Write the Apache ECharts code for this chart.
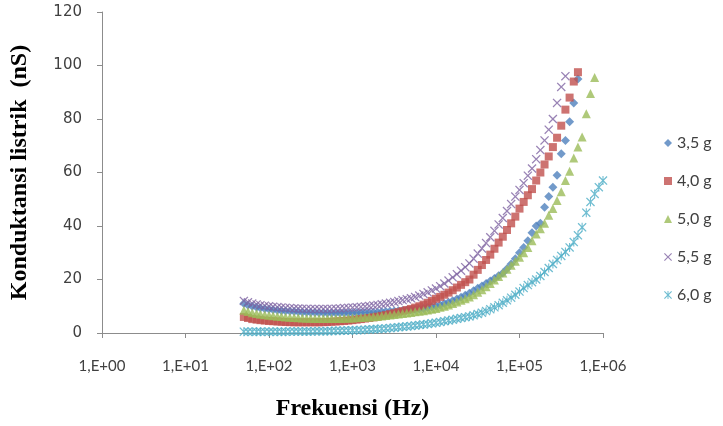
<!DOCTYPE html>
<html>
<head>
<meta charset="utf-8">
<script src="https://cdn.jsdelivr.net/npm/echarts@6/dist/echarts.min.js"></script>
<style>
  html, body { margin: 0; padding: 0; background: #fff; }
  #chart { width: 723px; height: 426px; }
</style>
</head>
<body>
<div id="chart"></div>
<script>
// frequency sweep (Hz)
const freq = [50, 56, 63, 71, 79, 89, 100, 112, 126, 141, 158, 178, 200, 224, 251, 282, 316, 355, 398, 447,
    501, 562, 631, 708, 794, 891, 1000, 1122, 1259, 1413, 1585, 1778, 1995, 2239, 2512, 2818, 3162, 3548, 3981, 4467, 5012,
    5623, 6310, 7079, 7943, 8913, 10000, 11220, 12589, 14125, 15849, 17783, 19953, 22387, 25119,
    28184, 31623, 35481, 39811, 44668, 50119, 56234, 63096, 70795, 79433, 89125, 100000,
    112202, 125893, 141254, 158489, 177828, 199526, 223872, 251189, 281838, 316228, 354813, 398107,
    446684, 501187, 562341, 630957, 707946, 794328, 891251, 1000000];

const names = ["3,5 g", "4,0 g", "5,0 g", "5,5 g", "6,0 g"];

// konduktansi (nS)
const g35 = [11.0, 10.4, 10.0, 9.6, 9.3, 9.1, 8.9, 8.7, 8.5, 8.35, 8.2, 8.1, 8.0, 7.9, 7.8, 7.75, 7.7, 7.65, 7.6, 7.55,
    7.5, 7.5, 7.5, 7.5, 7.5, 7.5, 7.5, 7.55, 7.6, 7.65, 7.7, 7.75, 7.8, 7.9, 8.0, 8.1, 8.2, 8.3, 8.4, 8.5, 8.6,
    8.8, 9.0, 9.2, 9.5, 9.8, 10.1, 10.5, 11.0, 11.5, 12.1, 12.7, 13.4, 14.1, 14.9,
    15.8, 16.7, 17.6, 18.5, 19.4, 20.4, 21.4, 22.4, 24.0, 25.8, 27.8, 30.0,
    32.0, 34.5, 37.5, 40.0, 41.0, 47.0, 51.0, 54.5, 59.0, 67.0, 72.0, 79.0, 86.0, 95.0];
const g40 = [6.0, 5.6, 5.2, 5.0, 4.8, 4.65, 4.5, 4.4, 4.3, 4.2, 4.1, 4.05, 4.0, 4.0, 4.0, 4.0, 4.0, 4.0, 4.0, 4.05,
    4.1, 4.2, 4.3, 4.4, 4.5, 4.65, 4.8, 5.0, 5.2, 5.4, 5.6, 5.85, 6.1, 6.4, 6.7, 7.05, 7.4, 7.8, 8.2, 8.6, 9.0,
    9.5, 10.0, 10.6, 11.3, 12.0, 12.8, 13.5, 14.3, 15.1, 16.0, 17.0, 18.0, 19.0, 20.0,
    21.8, 23.6, 25.4, 27.3, 29.3, 31.5, 33.8, 36.0, 38.5, 41.0, 43.5, 46.5,
    49.0, 51.5, 53.8, 57.0, 60.0, 63.0, 66.0, 69.5, 73.0, 77.5, 83.5, 88.0, 94.0, 97.5];
const g50 = [8.5, 8.0, 7.6, 7.3, 7.0, 6.8, 6.6, 6.45, 6.3, 6.15, 6.0, 5.9, 5.8, 5.7, 5.6, 5.55, 5.5, 5.45, 5.4, 5.4,
    5.4, 5.4, 5.4, 5.45, 5.5, 5.55, 5.6, 5.7, 5.8, 5.9, 6.0, 6.1, 6.2, 6.35, 6.5, 6.7, 6.9, 7.1, 7.3, 7.5, 7.7,
    7.9, 8.1, 8.3, 8.6, 8.9, 9.2, 9.6, 10.0, 10.5, 11.0, 11.6, 12.2, 12.8, 13.5,
    14.3, 15.2, 16.2, 17.3, 18.5, 19.8, 21.1, 22.4, 23.8, 25.3, 26.8, 28.3,
    30.0, 32.0, 34.5, 37.0, 39.0, 41.0, 44.0, 46.5, 49.5, 52.8, 57.0, 60.5, 65.4, 69.5, 73.3, 82.0, 89.5, 95.5];
const g55 = [12.0, 11.5, 11.0, 10.7, 10.4, 10.2, 10.0, 9.85, 9.7, 9.55, 9.4, 9.3, 9.2, 9.15, 9.1, 9.05, 9.0, 9.0, 9.0, 9.0,
    9.0, 9.05, 9.1, 9.2, 9.3, 9.4, 9.5, 9.65, 9.8, 9.95, 10.1, 10.3, 10.5, 10.75, 11.0, 11.3, 11.6, 11.95, 12.3, 12.65, 13.0,
    13.5, 14.0, 14.6, 15.2, 15.9, 16.6, 17.5, 18.5, 19.6, 20.8, 22.0, 23.3, 24.6, 26.0,
    27.8, 29.7, 31.6, 33.6, 35.8, 38.2, 40.6, 43.0, 45.6, 48.2, 51.0, 53.5,
    56.0, 58.8, 61.5, 65.0, 68.4, 72.0, 76.0, 80.0, 86.0, 92.0, 96.0];
const g60 = [0.5, 0.5, 0.5, 0.5, 0.5, 0.5, 0.5, 0.5, 0.5, 0.5, 0.5, 0.55, 0.6, 0.6, 0.6, 0.6, 0.6, 0.65, 0.7, 0.7,
    0.7, 0.75, 0.8, 0.85, 0.9, 0.95, 1.0, 1.05, 1.1, 1.2, 1.3, 1.4, 1.5, 1.6, 1.7, 1.85, 2.0, 2.15, 2.3, 2.45, 2.6,
    2.8, 3.0, 3.2, 3.4, 3.6, 3.8, 4.1, 4.4, 4.7, 5.0, 5.3, 5.6, 5.9, 6.2,
    6.6, 7.1, 7.6, 8.2, 8.9, 9.6, 10.4, 11.3, 12.2, 13.2, 14.3, 15.5,
    16.8, 17.9, 19.0, 20.0, 21.3, 22.8, 24.3, 25.8, 27.3, 28.8, 30.3, 32.0, 34.0, 36.5, 39.5, 45.0, 49.0, 52.0, 54.5, 57.0];

const colors = ["#4F81BD", "#C0504D", "#9BBB59", "#8064A2", "#4BACC6"];
const crossPath = "path://M0,1L1,0L5,4L9,0L10,1L6,5L10,9L9,10L5,6L1,10L0,9L4,5Z";
const starPath = "path://M0,1L1,0L5,4L9,0L10,1L6,5L10,9L9,10L5,6L1,10L0,9L4,5Z M4.4,0L5.6,0L5.6,10L4.4,10Z";
const symbols = ["diamond", "rect", "triangle", crossPath, starPath];
const sizes = [9, 8, 9, 9, 9];
const values = [g35, g40, g50, g55, g60];

function pairs(vals) {
    return vals.map((v, i) => [freq[i], v]);
}

const axisGray = "#8c8c8c";

let chart = echarts.init(document.getElementById("chart"));
chart.setOption({
    animation: false,
    grid: { left: 99, right: 120, top: 12, bottom: 93 },
    legend: {
        orient: "vertical",
        left: 659,
        top: 130,
        itemWidth: 8,
        itemHeight: 8,
        itemGap: 22,
        textStyle: { color: "#404040", fontSize: 16, fontFamily: "Lato" },
        data: names
    },
    xAxis: {
        type: "log",
        logBase: 10,
        min: 1,
        max: 1000000,
        name: "Frekuensi (Hz)",
        nameLocation: "middle",
        nameGap: 64,
        nameTextStyle: { fontFamily: "Liberation Serif", fontWeight: "bold", fontSize: 24, color: "#000" },
        axisLine: { lineStyle: { color: axisGray } },
        axisTick: { length: 5, lineStyle: { color: axisGray } },
        splitLine: { show: false },
        minorTick: { show: false },
        axisLabel: {
            margin: 26,
            color: "#404040",
            fontSize: 15,
            fontFamily: "Lato",
            formatter: function (v) {
                let e = Math.round(Math.log10(v));
                return "1,E+" + (e < 10 ? "0" : "") + e;
            }
        }
    },
    yAxis: {
        type: "value",
        min: 0,
        max: 120,
        interval: 20,
        name: "Konduktansi listrik  (nS)",
        nameLocation: "middle",
        nameGap: 70,
        nameTextStyle: { fontFamily: "Liberation Serif", fontWeight: "bold", fontSize: 24, color: "#000" },
        axisLine: { show: true, lineStyle: { color: axisGray } },
        axisTick: { show: true, length: 5, lineStyle: { color: axisGray } },
        splitLine: { show: false },
        axisLabel: { margin: 20, color: "#404040", fontSize: 15, fontFamily: "DejaVu Sans" }
    },
    series: names.map((n, k) => ({
        name: n,
        type: "scatter",
        symbol: symbols[k],
        symbolSize: sizes[k],
        itemStyle: { color: colors[k] },
        data: pairs(values[k])
    }))
});
</script>
</body>
</html>
